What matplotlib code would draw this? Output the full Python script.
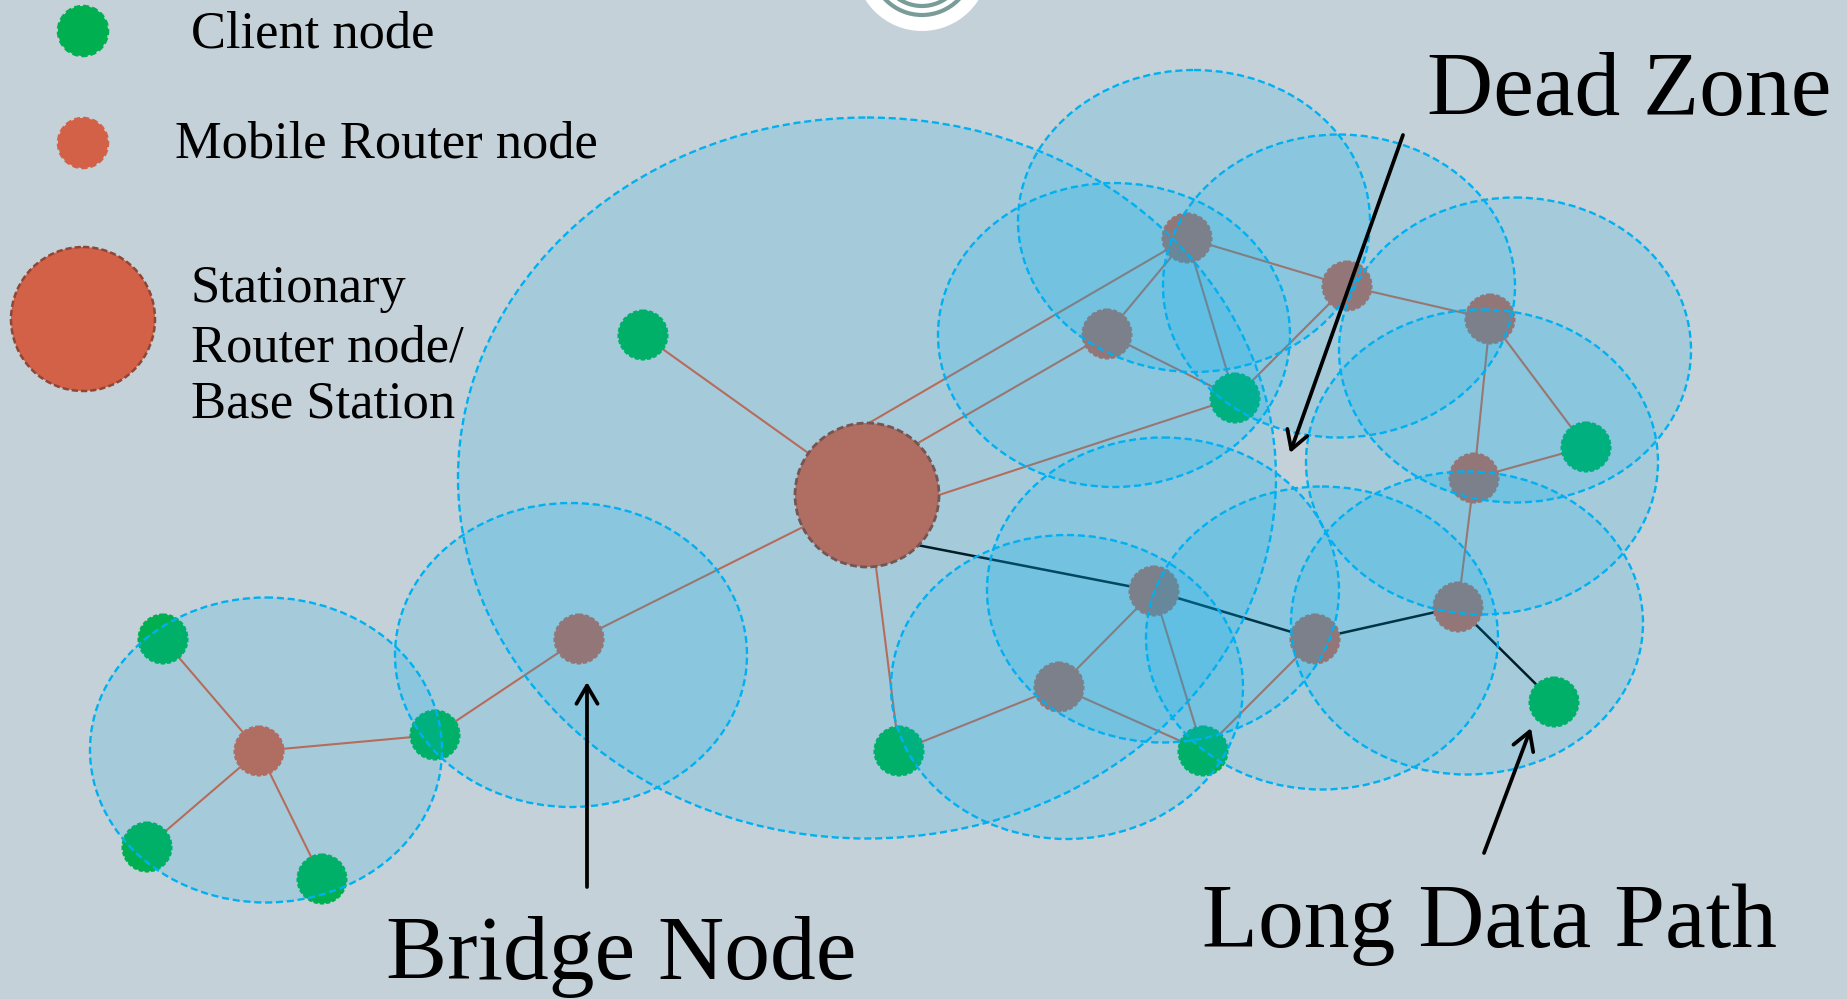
import matplotlib
matplotlib.use('Agg')
import matplotlib.pyplot as plt
from matplotlib.patches import Ellipse, Circle

W, H = 1847, 999
BG = '#C5D1D8'
GREEN = '#00B050'
ROUTER = '#D26147'
LINE_RED = '#D9603F'
CYAN = '#00B0F0'

# ---- node data (pixel coordinates of the diagram) ----
base_station = (867, 495)
base_radius = 72
# points on the base-station rim where some links attach
base_port_names = ['P_top', 'P_ur', 'P_r', 'P_lr']
base_port_x = [869, 918, 939, 917]
base_port_y = [423, 443, 495, 545]
client_x = [643, 1235, 1586, 163, 435, 147, 322, 899, 1203, 1554]
client_y = [335, 398, 447, 639, 735, 847, 879, 751, 751, 702]
router_x = [1187, 1347, 1107, 1490, 1474, 1154, 1059, 1315, 1458, 579, 259]
router_y = [238, 286, 334, 319, 478, 591, 687, 639, 607, 639, 751]
node_radius = 24.5

# coverage ellipses: centre x, centre y, width, height
cover_x = [867, 1194, 1114, 1339, 1515, 1482, 1163, 1067, 1322, 1467, 266, 571]
cover_y = [478, 221, 335, 286, 350, 462, 590, 687, 638, 623, 750, 655]
cover_w = [818, 352, 352, 352, 352, 352, 352, 352, 352, 352, 352, 352]
cover_h = [721, 302, 304, 303, 305, 305, 305, 304, 303, 303, 305, 304]

# links
red_links = [('B', 'C0'), ('P_top', 'R0'), ('P_ur', 'R2'), ('P_r', 'C1'), ('B', 'R9'), ('B', 'C7'),
             ('R9', 'C4'), ('C4', 'R10'), ('R10', 'C3'), ('R10', 'C5'), ('R10', 'C6'),
             ('R0', 'R2'), ('R0', 'C1'), ('R0', 'R1'), ('R2', 'C1'), ('R1', 'C1'),
             ('R1', 'R3'), ('R3', 'C2'), ('R3', 'R4'), ('R4', 'C2'), ('R4', 'R8'),
             ('R5', 'R6'), ('R5', 'C8'), ('R6', 'C7'), ('R6', 'C8'), ('R7', 'C8')]
path_links = [('P_lr', 'R5'), ('R5', 'R7'), ('R7', 'R8'), ('R8', 'C9')]

# annotations: text, x, y (baseline-left)
legend_labels = ['Client node', 'Mobile Router node', 'Stationary', 'Router node/', 'Base Station']
legend_label_x = [191, 175, 191, 191, 191]
legend_label_y = [47, 158, 302, 361, 418]
legend_marker_x = [83, 83, 83]
legend_marker_y = [31, 143, 319]
legend_marker_r = [25, 25, 72]

callouts = ['Dead Zone', 'Bridge Node', 'Long Data Path']
callout_x = [1427, 386, 1202]
callout_y = [115, 979, 947]
arrow_tail = [(1403, 135), (587, 887), (1484, 853)]
arrow_tip = [(1290, 453), (587, 682), (1531, 728)]

plt.rcParams['font.family'] = ['Liberation Serif', 'DejaVu Serif']

fig = plt.figure(figsize=(W / 100, H / 100), dpi=100)
fig.patch.set_facecolor(BG)
ax = fig.add_axes([0, 0, 1, 1])
ax.set_xlim(0, W)
ax.set_ylim(H, 0)
ax.set_facecolor(BG)
ax.axis('off')

pos = {'B': base_station}
for n, x, y in zip(base_port_names, base_port_x, base_port_y):
    pos[n] = (x, y)
for i, (x, y) in enumerate(zip(client_x, client_y)):
    pos[f'C{i}'] = (x, y)
for i, (x, y) in enumerate(zip(router_x, router_y)):
    pos[f'R{i}'] = (x, y)

for a, b in red_links:
    ax.plot([pos[a][0], pos[b][0]], [pos[a][1], pos[b][1]], color=LINE_RED, lw=1.5,
            zorder=1, solid_capstyle='butt')
for a, b in path_links:
    ax.plot([pos[a][0], pos[b][0]], [pos[a][1], pos[b][1]], color='#000000', lw=1.8,
            zorder=1, solid_capstyle='butt')

# nodes
for x, y in zip(client_x, client_y):
    ax.add_patch(Circle((x, y), node_radius, facecolor=GREEN, edgecolor=GREEN,
                        lw=1.5, ls=(0, (2, 1)), zorder=2))
for x, y in zip(router_x, router_y):
    ax.add_patch(Circle((x, y), node_radius, facecolor=ROUTER, edgecolor=ROUTER,
                        lw=1.5, ls=(0, (2, 1)), zorder=2))
ax.add_patch(Circle(base_station, base_radius, facecolor=ROUTER, edgecolor='#8A4536',
                    lw=2.0, ls=(0, (2.5, 1.2)), zorder=2))

# coverage ellipses
for x, y, w, h in zip(cover_x, cover_y, cover_w, cover_h):
    ax.add_patch(Ellipse((x, y), w, h, facecolor=(0, 0.69, 0.94, 0.16),
                         edgecolor=CYAN, lw=1.7, ls=(0, (3, 1.6)), zorder=3))

# legend markers
legend_colors = [GREEN, ROUTER, ROUTER]
legend_edges = [GREEN, ROUTER, '#8E4636']
for x, y, r, c, e in zip(legend_marker_x, legend_marker_y, legend_marker_r,
                         legend_colors, legend_edges):
    ax.add_patch(Circle((x, y), r, facecolor=c, edgecolor=e, lw=1.8,
                        ls=(0, (2.5, 1.2)), zorder=4))
for t, x, y in zip(legend_labels, legend_label_x, legend_label_y):
    ax.text(x, y, t, fontsize=37.8, color='black', ha='left', va='baseline', zorder=5)

# callouts
for t, x, y in zip(callouts, callout_x, callout_y):
    ax.text(x, y, t, fontsize=66, color='black', ha='left', va='baseline', zorder=5)
for tail, tip in zip(arrow_tail, arrow_tip):
    ax.annotate('', xy=tip, xytext=tail,
                arrowprops=dict(arrowstyle='->,head_length=0.65,head_width=0.38',
                                lw=2.7, color='black', mutation_scale=20,
                                shrinkA=0, shrinkB=0), zorder=6)

# partial logo at top centre
ax.add_patch(Circle((922, -36), 67, facecolor='white', edgecolor='none', zorder=5))
for r in (51, 42):
    ax.add_patch(Circle((922, -36), r, facecolor='none', edgecolor='#7A9C98', lw=3, zorder=6))

fig.savefig('out.png', dpi=100, facecolor=BG)
